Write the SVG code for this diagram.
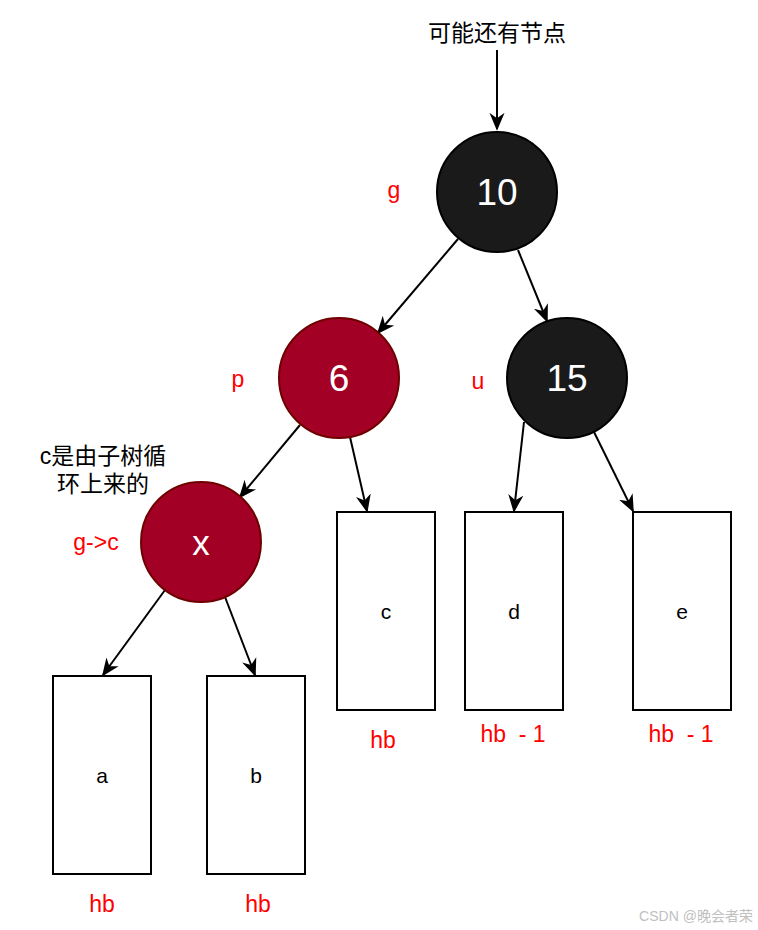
<svg xmlns="http://www.w3.org/2000/svg" width="758" height="930" viewBox="0 0 758 930">
<style>
text{font-family:"Liberation Sans","Noto Sans CJK SC",Arial,sans-serif;text-anchor:middle;dominant-baseline:central}
.blk{fill:#1a1a1a;stroke:#000;stroke-width:2}
.red{fill:#a20025;stroke:#6f0000;stroke-width:2}
.nt{fill:#fff;font-size:37px}
.box{fill:#fff;stroke:#000;stroke-width:2}
.bt{fill:#000;font-size:21px}
.lbl{fill:#ff0000;font-size:23px}
.cn{fill:#000;font-size:23px}
.e{stroke:#000;stroke-width:2;fill:none;marker-end:url(#ah)}
</style>
<defs>
<marker id="ah" viewBox="0 0 10 10" refX="9" refY="5" markerWidth="18" markerHeight="18" markerUnits="userSpaceOnUse" orient="auto">
<path d="M0,0.8 L10,5 L0,9.2 L3,5 z" fill="#000"/>
</marker>
</defs>
<g id="connectors">
<line class="e" x1="497" y1="50" x2="497" y2="129"/>
<line class="e" x1="458" y1="239" x2="378" y2="333"/>
<line class="e" x1="518" y1="250" x2="547" y2="321"/>
<line class="e" x1="300" y1="425" x2="240" y2="497"/>
<line class="e" x1="350" y1="437" x2="367" y2="511"/>
<line class="e" x1="524" y1="422" x2="514" y2="511"/>
<line class="e" x1="594" y1="432" x2="633" y2="511"/>
<line class="e" x1="165" y1="590" x2="103" y2="675"/>
<line class="e" x1="225" y1="597" x2="255" y2="675"/>
</g>
<g id="top-label"><text class="cn" x="497" y="33">可能还有节点</text></g>
<g id="n10"><circle class="blk" cx="497" cy="192" r="60"/><text class="nt" x="497" y="192">10</text></g>
<g id="n6"><circle class="red" cx="339" cy="378" r="60"/><text class="nt" x="339" y="378">6</text></g>
<g id="n15"><circle class="blk" cx="567" cy="378" r="60"/><text class="nt" x="567" y="378">15</text></g>
<g id="nx"><circle class="red" cx="201" cy="542" r="60"/><text class="nt" x="201" y="542" style="font-size:35px">x</text></g>
<g id="bc"><rect class="box" x="337" y="512" width="98" height="198"/><text class="bt" x="386" y="611">c</text></g>
<g id="bd"><rect class="box" x="465" y="512" width="98" height="198"/><text class="bt" x="514" y="611">d</text></g>
<g id="be"><rect class="box" x="633" y="512" width="98" height="198"/><text class="bt" x="682" y="611">e</text></g>
<g id="ba"><rect class="box" x="53" y="676" width="98" height="198"/><text class="bt" x="102" y="775">a</text></g>
<g id="bb"><rect class="box" x="207" y="676" width="98" height="198"/><text class="bt" x="256" y="775">b</text></g>
<g id="labels">
<text class="lbl" x="394" y="190">g</text>
<text class="lbl" x="238" y="379">p</text>
<text class="lbl" x="478" y="381">u</text>
<text class="lbl" x="96" y="542">g-&gt;c</text>
<text class="cn" x="103" y="456">c是由子树循</text>
<text class="cn" x="103" y="484">环上来的</text>
<text class="lbl" x="383" y="740">hb</text>
<text class="lbl" x="513" y="734" style="white-space:pre">hb  - 1</text>
<text class="lbl" x="681" y="734" style="white-space:pre">hb  - 1</text>
<text class="lbl" x="102" y="904">hb</text>
<text class="lbl" x="258" y="904">hb</text>
<text x="696" y="916" style="fill:#c0c0c0;font-size:14px">CSDN @晚会者荣</text>
</g>
</svg>
